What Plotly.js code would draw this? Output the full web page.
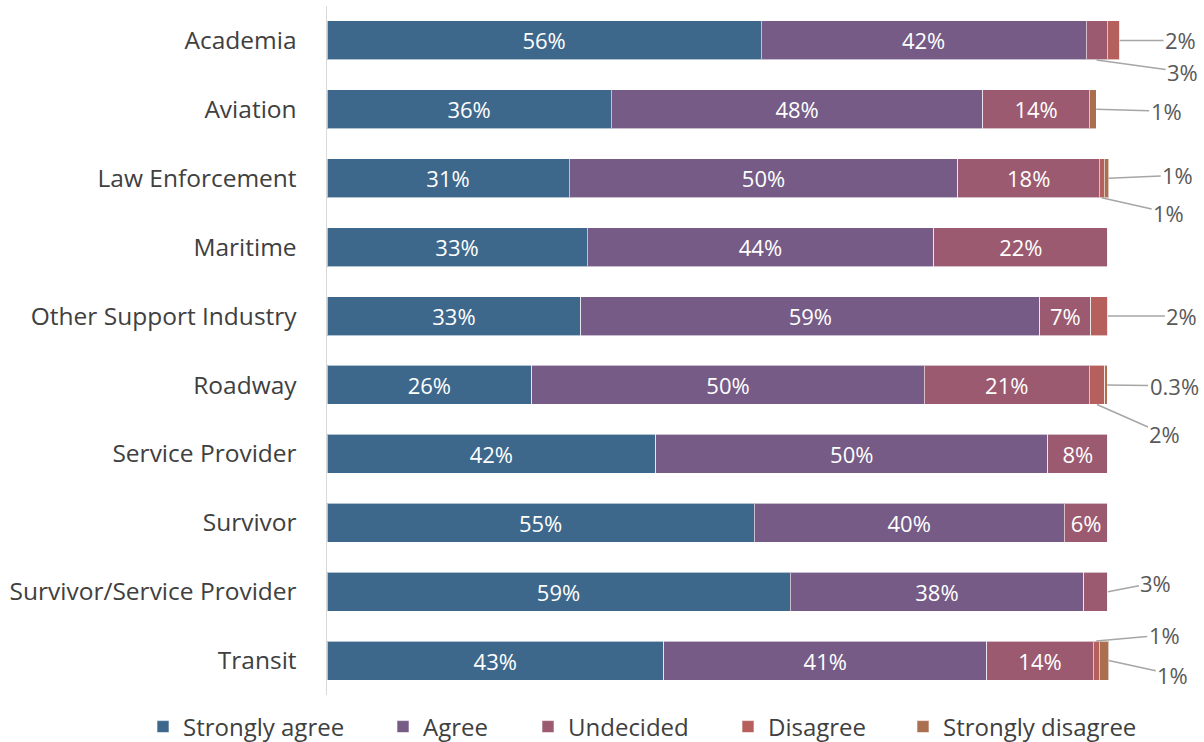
<!DOCTYPE html>
<html>
<head>
<meta charset="utf-8">
<script src="https://cdn.plot.ly/plotly-3.0.1.min.js"></script>
<style>html,body{margin:0;padding:0;background:#fff;}#chart{width:1204px;height:742px;}</style>
</head>
<body>
<div id="chart"></div>
<script>
const categories = ["Academia","Aviation","Law Enforcement","Maritime","Other Support Industry","Roadway","Service Provider","Survivor","Survivor/Service Provider","Transit"];
const seriesNames = ["Strongly agree","Agree","Undecided","Disagree","Strongly disagree"];
const stronglyAgree = [55.6, 36.4, 31.0, 33.3, 32.5, 26.2, 42.1, 54.7, 59.3, 43.1];
const agree = [41.6, 47.6, 49.8, 44.4, 58.8, 50.3, 50.2, 39.7, 37.6, 41.4];
const undecided = [2.7, 13.6, 18.1, 22.3, 6.5, 21.1, 7.7, 5.6, 3.1, 13.6];
const disagree = [1.6, 0, 0.6, 0, 2.2, 2.0, 0, 0, 0, 0.8];
const stronglyDisagree = [0, 0.9, 0.6, 0, 0, 0.3, 0, 0, 0, 1.2];
const colors = ["#3D688C","#755B86","#9C5A70","#B5605D","#A96F4E"];

// outside labels: [series index, category index, anchor, text dx, text dy]
const outsideLabels = [
  [3, 0, "end", 61, 0],
  [2, 0, "bottom", 86, 12],
  [4, 1, "end", 70, 2],
  [4, 2, "end", 69, -3],
  [3, 2, "bottom", 67, 15],
  [3, 4, "end", 74, 0],
  [4, 5, "end", 67, 1],
  [3, 5, "bottom", 68, 30],
  [2, 8, "end", 48, -9],
  [3, 9, "top", 68, -6],
  [4, 9, "end", 64, 14]
];

const allSeries = [stronglyAgree, agree, undecided, disagree, stronglyDisagree];
function fmt(v){ return v > 0 && v < 0.5 ? v.toFixed(1) + "%" : Math.round(v) + "%"; }

const legendIds = ["legend","legend2","legend3","legend4","legend5"];
const legendLeft = [143, 383, 528, 728, 903];

const traces = allSeries.map((vals, si) => ({
  type: "bar",
  orientation: "h",
  name: seriesNames[si],
  legend: legendIds[si],
  y: categories,
  x: vals,
  marker: {color: colors[si], line: {color: "rgba(255,255,255,0.6)", width: 1}},
  text: vals.map(v => (v >= 5 ? fmt(v) : "")),
  textposition: "inside",
  insidetextanchor: "middle",
  textangle: 0,
  textfont: {color: "#ffffff", size: 22, family: "Open Sans, sans-serif"},
  hoverinfo: "skip"
}));

const halfBar = 19.5;
const annotations = outsideLabels.map(([si, ci, anchor, dx, dy]) => {
  let start = 0;
  for (let k = 0; k < si; k++) start += allSeries[k][ci];
  const v = allSeries[si][ci];
  return {
    x: anchor === "end" ? start + v : start + v / 2,
    y: categories[ci],
    yshift: anchor === "bottom" ? -halfBar : (anchor === "top" ? halfBar : 0),
    text: fmt(v),
    showarrow: true,
    arrowhead: 0,
    arrowwidth: 1.5,
    arrowcolor: "#A6A6A6",
    ax: dx,
    ay: dy,
    font: {size: 22, color: "#595959", family: "Open Sans, sans-serif"}
  };
});

const layout = {
  width: 1204,
  height: 742,
  margin: {l: 327, r: 18, t: 6, b: 47},
  barmode: "stack",
  bargap: 0.435,
  paper_bgcolor: "#ffffff",
  plot_bgcolor: "#ffffff",
  font: {family: "Open Sans, sans-serif", color: "#404040", size: 24},
  xaxis: {range: [0, 110], visible: false, showgrid: false, zeroline: false, fixedrange: true},
  yaxis: {
    categoryorder: "array",
    categoryarray: categories,
    range: [9.5, -0.5],
    showline: true,
    linecolor: "#D9D9D9",
    linewidth: 1.5,
    showgrid: false,
    ticks: "",
    ticklabelstandoff: 24,
    tickfont: {size: 24.5, color: "#404040"}
  },
  showlegend: true,
  annotations: annotations
};
legendIds.forEach((id, i) => {
  layout[id] = {
    orientation: "h",
    xref: "container", yref: "container",
    x: legendLeft[i] / 1204, xanchor: "left",
    y: 15 / 742, yanchor: "middle",
    font: {size: 24, color: "#404040"},
    itemwidth: 30,
    bgcolor: "rgba(0,0,0,0)"
  };
});

Plotly.newPlot("chart", traces, layout, {displayModeBar: false, staticPlot: true});
</script>
</body>
</html>
